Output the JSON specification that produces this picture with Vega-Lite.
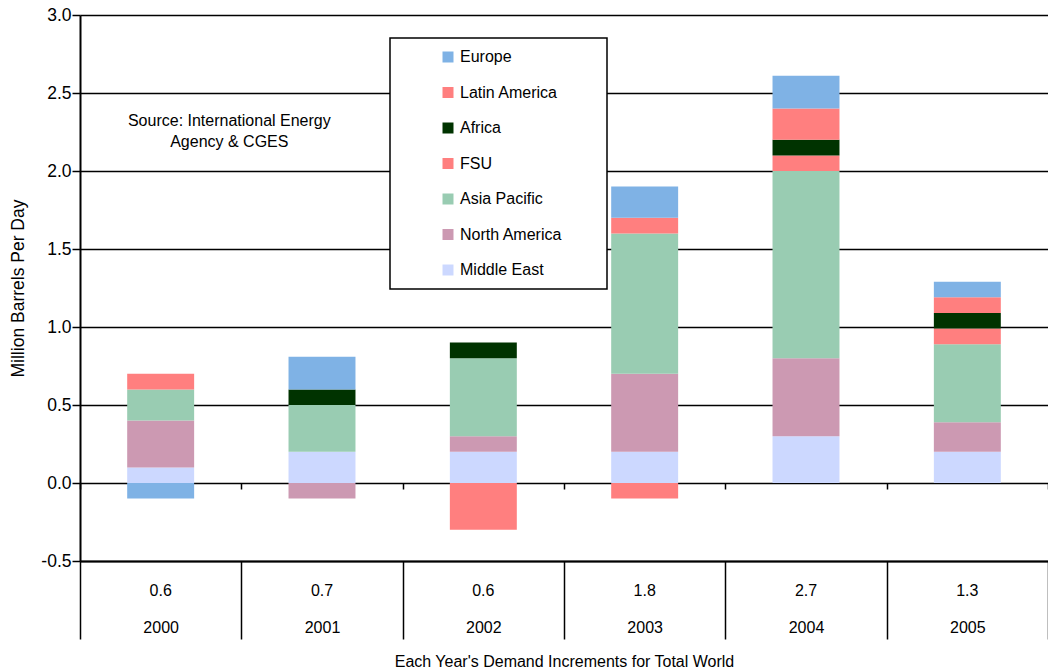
{
  "$schema": "https://vega.github.io/schema/vega-lite/v6.json",
  "width": 968,
  "height": 546,
  "autosize": {"type": "none"},
  "padding": {"left": 80, "top": 15, "right": 0, "bottom": 110},
  "background": "white",
  "config": {"view": {"stroke": null}, "font": "Liberation Sans", "legend": {"strokeWidth": 1.5}},
  "datasets": {
    "regions": [
      {"year": "2000", "region": "Middle East", "value": 0.1},
      {"year": "2000", "region": "North America", "value": 0.3},
      {"year": "2000", "region": "Asia Pacific", "value": 0.2},
      {"year": "2000", "region": "FSU", "value": 0.1},
      {"year": "2000", "region": "Europe", "value": -0.1},
      {"year": "2001", "region": "Middle East", "value": 0.2},
      {"year": "2001", "region": "North America", "value": -0.1},
      {"year": "2001", "region": "Asia Pacific", "value": 0.3},
      {"year": "2001", "region": "Africa", "value": 0.1},
      {"year": "2001", "region": "Europe", "value": 0.21},
      {"year": "2002", "region": "Middle East", "value": 0.2},
      {"year": "2002", "region": "North America", "value": 0.1},
      {"year": "2002", "region": "Asia Pacific", "value": 0.5},
      {"year": "2002", "region": "Africa", "value": 0.1},
      {"year": "2002", "region": "Latin America", "value": -0.3},
      {"year": "2003", "region": "Middle East", "value": 0.2},
      {"year": "2003", "region": "North America", "value": 0.5},
      {"year": "2003", "region": "Asia Pacific", "value": 0.9},
      {"year": "2003", "region": "FSU", "value": 0.1},
      {"year": "2003", "region": "Europe", "value": 0.2},
      {"year": "2003", "region": "Latin America", "value": -0.1},
      {"year": "2004", "region": "Middle East", "value": 0.3},
      {"year": "2004", "region": "North America", "value": 0.5},
      {"year": "2004", "region": "Asia Pacific", "value": 1.2},
      {"year": "2004", "region": "FSU", "value": 0.1},
      {"year": "2004", "region": "Africa", "value": 0.1},
      {"year": "2004", "region": "Latin America", "value": 0.2},
      {"year": "2004", "region": "Europe", "value": 0.21},
      {"year": "2005", "region": "Middle East", "value": 0.2},
      {"year": "2005", "region": "North America", "value": 0.19},
      {"year": "2005", "region": "Asia Pacific", "value": 0.5},
      {"year": "2005", "region": "FSU", "value": 0.1},
      {"year": "2005", "region": "Africa", "value": 0.1},
      {"year": "2005", "region": "Latin America", "value": 0.1},
      {"year": "2005", "region": "Europe", "value": 0.1}
    ],
    "regionOrder": [
      {"region": "Middle East", "stackOrder": 1},
      {"region": "North America", "stackOrder": 2},
      {"region": "Asia Pacific", "stackOrder": 3},
      {"region": "FSU", "stackOrder": 4},
      {"region": "Africa", "stackOrder": 5},
      {"region": "Latin America", "stackOrder": 6},
      {"region": "Europe", "stackOrder": 7}
    ],
    "totals": [
      {"year": "2000", "total": 0.6},
      {"year": "2001", "total": 0.7},
      {"year": "2002", "total": 0.6},
      {"year": "2003", "total": 1.8},
      {"year": "2004", "total": 2.7},
      {"year": "2005", "total": 1.3}
    ]
  },
  "layer": [
    {
      "data": {"name": "regions"},
      "transform": [
        {"lookup": "region", "from": {"data": {"name": "regionOrder"}, "key": "region", "fields": ["stackOrder"]}}
      ],
      "mark": {"type": "bar", "strokeWidth": 0, "width": {"band": 0.415}},
      "encoding": {
        "x": {
          "field": "year",
          "type": "nominal",
          "sort": ["2000", "2001", "2002", "2003", "2004", "2005"],
          "scale": {"paddingInner": 0, "paddingOuter": 0},
          "axis": {
            "orient": "bottom",
            "offset": -78,
            "tickBand": "extent",
            "tickSize": 6,
            "tickColor": "black",
            "tickWidth": 1.5,
            "labels": false,
            "domain": false,
            "grid": false,
            "title": null
          }
        },
        "y": {
          "field": "value",
          "type": "quantitative",
          "stack": "zero",
          "scale": {"domain": [-0.5, 3], "nice": false, "zero": false},
          "axis": {
            "title": "Million Barrels Per Day",
            "titleFontSize": 17.5,
            "titleFontWeight": "normal",
            "titleColor": "black",
            "titlePadding": 13,
            "values": [-0.5, 0, 0.5, 1, 1.5, 2, 2.5, 3],
            "format": ".1f",
            "labelExpr": "replace(datum.label, '\u2212', '-')",
            "labelFontSize": 17.5,
            "labelColor": "black",
            "labelPadding": 1,
            "grid": true,
            "gridColor": "black",
            "gridWidth": 1.5,
            "gridOpacity": 1,
            "domainColor": "black",
            "domainWidth": 2,
            "tickColor": "black",
            "tickSize": 8,
            "tickWidth": 1.5
          }
        },
        "order": {"field": "stackOrder", "type": "quantitative", "sort": "ascending"},
        "color": {
          "field": "region",
          "type": "nominal",
          "scale": {
            "domain": ["Middle East", "North America", "Asia Pacific", "FSU", "Africa", "Latin America", "Europe"],
            "range": ["#CCD8FF", "#CC99B2", "#99CCB2", "#FF7F7F", "#003300", "#FF7F7F", "#7FB2E5"]
          },
          "legend": {
            "orient": "none",
            "legendX": 310,
            "legendY": 23,
            "values": ["Europe", "Latin America", "Africa", "FSU", "Asia Pacific", "North America", "Middle East"],
            "title": "\u00a0",
            "titleOrient": "right",
            "titlePadding": 34,
            "padding": 11,
            "strokeColor": "black",
            "fillColor": "white",
            "symbolType": "square",
            "symbolSize": 121,
            "symbolStrokeWidth": 0,
            "symbolOpacity": 1,
            "symbolOffset": 39,
            "labelOffset": 4,
            "labelFontSize": 16,
            "labelColor": "black",
            "rowPadding": 19.5
          }
        }
      }
    },
    {
      "data": {"name": "totals"},
      "mark": {"type": "text", "fontSize": 16, "color": "black", "baseline": "middle", "align": "center"},
      "encoding": {
        "x": {
          "field": "year",
          "type": "nominal",
          "sort": ["2000", "2001", "2002", "2003", "2004", "2005"],
          "axis": {
            "orient": "bottom",
            "title": "Each Year's Demand Increments for Total World",
            "titleFontSize": 16,
            "titleFontWeight": "normal",
            "titleColor": "black",
            "titlePadding": 14,
            "labelAngle": 0,
            "labelFontSize": 16,
            "labelColor": "black",
            "labelPadding": -20,
            "tickBand": "extent",
            "tickSize": 78,
            "tickColor": "black",
            "tickWidth": 1.5,
            "domainColor": "black",
            "domainWidth": 2,
            "grid": false
          }
        },
        "y": {"datum": -0.69},
        "text": {"field": "total", "type": "quantitative", "format": ".1f"}
      }
    },
    {
      "data": {"values": [{"note": "source"}]},
      "mark": {"type": "text", "fontSize": 16, "color": "black", "baseline": "middle", "align": "center", "lineHeight": 21, "dx": -12},
      "encoding": {
        "x": {"datum": "2001", "bandPosition": 0, "axis": null},
        "y": {"datum": 2.32},
        "text": {"value": ["Source: International Energy", "Agency & CGES"]}
      }
    }
  ],
  "resolve": {"axis": {"x": "independent"}}
}
